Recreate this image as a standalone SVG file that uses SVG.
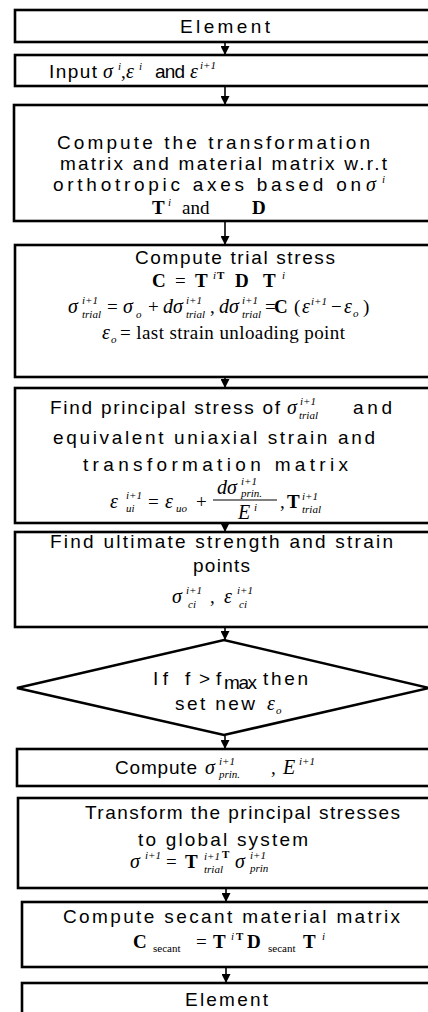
<svg xmlns="http://www.w3.org/2000/svg" width="428" height="1012" viewBox="0 0 428 1012">
<defs>
<style>
.box{fill:#fff;stroke:#000;stroke-width:2.6}
.s{font-family:"Liberation Sans",Arial,sans-serif;font-size:19px;fill:#000}
.m{font-family:"Liberation Serif","Times New Roman",serif;font-style:italic;font-size:20px;fill:#000}
.r{font-family:"Liberation Serif","Times New Roman",serif;font-size:19px;fill:#000}
.b{font-family:"Liberation Serif","Times New Roman",serif;font-weight:bold;font-size:19px;fill:#000}
.i{font-family:"Liberation Serif","Times New Roman",serif;font-style:italic;font-size:11px;fill:#000}
.u{font-family:"Liberation Serif","Times New Roman",serif;font-size:11px;fill:#000}
.con{stroke:#000;stroke-width:1.6;fill:none;marker-end:url(#ah)}
</style>
<marker id="ah" viewBox="0 0 9 9" refX="9" refY="4.5" markerWidth="9" markerHeight="9" markerUnits="userSpaceOnUse" orient="auto">
<path d="M0,0 L9,4.5 L0,9 z" fill="#000"/>
</marker>
</defs>
<rect width="428" height="1012" fill="#fff"/>

<g id="connectors">
<line class="con" x1="225" y1="42" x2="225" y2="55"/>
<line class="con" x1="225" y1="86" x2="225" y2="105"/>
<line class="con" x1="225" y1="221" x2="225" y2="245"/>
<line class="con" x1="225" y1="377" x2="225" y2="388"/>
<line class="con" x1="225" y1="523" x2="225" y2="532"/>
<line class="con" x1="225" y1="627" x2="225" y2="640"/>
<line class="con" x1="225" y1="735" x2="225" y2="749"/>
<line class="con" x1="226" y1="888" x2="226" y2="902"/>
<line class="con" x1="226" y1="967" x2="226" y2="983"/>
</g>

<g id="n1">
<rect class="box" x="15" y="10" width="430" height="32"/>
<text class="s" x="180" y="33" textLength="90" lengthAdjust="spacing">Element</text>
</g>

<g id="n2">
<rect class="box" x="15" y="55" width="430" height="31"/>
<text class="s" x="49" y="78" textLength="48" lengthAdjust="spacing">Input</text>
<text class="m" x="103" y="78">σ</text>
<text class="i" x="118" y="70">i</text>
<text class="r" x="121" y="78">,</text>
<text class="m" x="126" y="78">ε</text>
<text class="i" x="139" y="70">i</text>
<text class="s" x="155" y="78" textLength="30" lengthAdjust="spacing">and</text>
<text class="m" x="190" y="78">ε</text>
<text class="i" x="200" y="69">i+1</text>
</g>

<g id="n3">
<rect class="box" x="14" y="105" width="430" height="116"/>
<text class="s" x="57" y="149" textLength="313" lengthAdjust="spacing">Compute the transformation</text>
<text class="s" x="60" y="170" textLength="327" lengthAdjust="spacing">matrix and material matrix w.r.t</text>
<text class="s" x="53" y="191" textLength="308" lengthAdjust="spacing">orthotropic axes based on</text>
<text class="m" x="366" y="191">σ</text>
<text class="i" x="382" y="183">i</text>
<text class="b" x="152" y="214">T</text>
<text class="i" x="168" y="206">i</text>
<text class="r" x="182" y="214">and</text>
<text class="b" x="252" y="214">D</text>
</g>

<g id="n4">
<rect class="box" x="15" y="245" width="430" height="132"/>
<text class="s" x="135" y="264" textLength="200" lengthAdjust="spacing">Compute trial stress</text>
<text class="b" x="152" y="287">C</text>
<text class="r" x="175" y="287">=</text>
<text class="b" x="195" y="287">T</text>
<text class="i" x="213" y="279">i</text>
<text class="u" x="217" y="279" font-weight="bold">T</text>
<text class="b" x="235" y="287">D</text>
<text class="b" x="263" y="287">T</text>
<text class="i" x="282" y="279">i</text>

<text class="m" x="68" y="313">σ</text>
<text class="i" x="82" y="304">i+1</text>
<text class="i" x="82" y="318">trial</text>
<text class="r" x="107" y="313">=</text>
<text class="m" x="123" y="313">σ</text>
<text class="i" x="136" y="318">o</text>
<text class="r" x="148" y="313">+</text>
<text class="m" x="163" y="313">dσ</text>
<text class="i" x="186" y="304">i+1</text>
<text class="i" x="186" y="318">trial</text>
<text class="r" x="210" y="313">,</text>
<text class="m" x="219" y="313">dσ</text>
<text class="i" x="242" y="304">i+1</text>
<text class="i" x="242" y="318">trial</text>
<text class="r" x="265" y="313" font-size="15">=</text>
<text class="b" x="274" y="313">C</text>
<text class="r" x="294" y="313">(</text>
<text class="m" x="302" y="313" font-size="17">ε</text>
<text class="i" x="311" y="305">i+1</text>
<text class="r" x="331" y="313" font-size="15">−</text>
<text class="m" x="344" y="313" font-size="17">ε</text>
<text class="i" x="353" y="317">o</text>
<text class="r" x="363" y="313">)</text>

<text class="m" x="102" y="339">ε</text>
<text class="i" x="111" y="343">o</text>
<text class="r" x="120" y="339" textLength="225" lengthAdjust="spacing">= last strain unloading point</text>
</g>

<g id="n5">
<rect class="box" x="15" y="388" width="430" height="135"/>
<text class="s" x="50" y="414" textLength="230" lengthAdjust="spacing">Find principal stress of</text>
<text class="m" x="287" y="414">σ</text>
<text class="i" x="300" y="405">i+1</text>
<text class="i" x="299" y="419">trial</text>
<text class="s" x="353" y="414" textLength="39" lengthAdjust="spacing">and</text>
<text class="s" x="53" y="444" textLength="322" lengthAdjust="spacing">equivalent uniaxial strain and</text>
<text class="s" x="83" y="471" textLength="265" lengthAdjust="spacing">transformation matrix</text>
<text class="m" x="110" y="508">ε</text>
<text class="i" x="126" y="499">i+1</text>
<text class="i" x="126" y="512">ui</text>
<text class="r" x="148" y="508">=</text>
<text class="m" x="165" y="508">ε</text>
<text class="i" x="176" y="512">uo</text>
<text class="r" x="196" y="508">+</text>
<line x1="213" y1="500" x2="277" y2="500" stroke="#000" stroke-width="1"/>
<text class="m" x="217" y="494">dσ</text>
<text class="i" x="241" y="485">i+1</text>
<text class="i" x="241" y="497">prin.</text>
<text class="m" x="238" y="519">E</text>
<text class="i" x="254" y="511">i</text>
<text class="r" x="280" y="508">,</text>
<text class="b" x="287" y="508">T</text>
<text class="i" x="302" y="500">i+1</text>
<text class="i" x="302" y="513">trial</text>
</g>

<g id="n6">
<rect class="box" x="15" y="532" width="430" height="95"/>
<text class="s" x="50" y="548" textLength="343" lengthAdjust="spacing">Find ultimate strength and strain</text>
<text class="s" x="193" y="572" textLength="57" lengthAdjust="spacing">points</text>
<text class="m" x="172" y="603">σ</text>
<text class="i" x="186" y="594">i+1</text>
<text class="i" x="188" y="608">ci</text>
<text class="r" x="210" y="603">,</text>
<text class="m" x="224" y="603">ε</text>
<text class="i" x="237" y="594">i+1</text>
<text class="i" x="239" y="608">ci</text>
</g>

<g id="n7">
<polygon class="box" points="17,688 224,640 429,688 224,735"/>
<text class="s" x="153" y="685" textLength="15" lengthAdjust="spacing">If</text>
<text class="s" x="185" y="685">f</text>
<text class="s" x="199" y="685">&gt;</text>
<text class="s" x="216" y="685">f</text>
<text class="s" x="224" y="689" font-size="13" textLength="33" lengthAdjust="spacing">max</text>
<text class="s" x="263" y="685" textLength="45" lengthAdjust="spacing">then</text>
<text class="s" x="175" y="710" textLength="80" lengthAdjust="spacing">set new</text>
<text class="m" x="267" y="710" font-size="17">ε</text>
<text class="i" x="276" y="714">o</text>
</g>

<g id="n8">
<rect class="box" x="17" y="749" width="430" height="37"/>
<text class="s" x="115" y="774" textLength="82" lengthAdjust="spacing">Compute</text>
<text class="m" x="205" y="774">σ</text>
<text class="i" x="219" y="765">i+1</text>
<text class="i" x="219" y="778">prin.</text>
<text class="r" x="271" y="774">,</text>
<text class="m" x="283" y="774">E</text>
<text class="i" x="299" y="765">i+1</text>
</g>

<g id="n9">
<rect class="box" x="18" y="798" width="430" height="90"/>
<text class="s" x="85" y="819" textLength="315" lengthAdjust="spacing">Transform the principal stresses</text>
<text class="s" x="138" y="846" textLength="170" lengthAdjust="spacing">to global system</text>
<text class="m" x="130" y="868">σ</text>
<text class="i" x="145" y="859">i+1</text>
<text class="r" x="166" y="868">=</text>
<text class="b" x="185" y="868">T</text>
<text class="i" x="204" y="860">i+1</text>
<text class="u" x="222" y="858" font-weight="bold">T</text>
<text class="i" x="204" y="873">trial</text>
<text class="m" x="235" y="868">σ</text>
<text class="i" x="250" y="859">i+1</text>
<text class="i" x="250" y="872">prin</text>
</g>

<g id="n10">
<rect class="box" x="22" y="902" width="430" height="65"/>
<text class="s" x="63" y="923" textLength="337" lengthAdjust="spacing">Compute secant material matrix</text>
<text class="b" x="133" y="948">C</text>
<text class="u" x="153" y="952" font-size="9">secant</text>
<text class="r" x="196" y="948">=</text>
<text class="b" x="213" y="948">T</text>
<text class="i" x="231" y="940">i</text>
<text class="u" x="236" y="940" font-weight="bold">T</text>
<text class="b" x="247" y="948">D</text>
<text class="u" x="268" y="952" font-size="9">secant</text>
<text class="b" x="303" y="948">T</text>
<text class="i" x="322" y="940">i</text>
</g>

<g id="n11">
<rect class="box" x="22" y="983" width="430" height="40"/>
<text class="s" x="185" y="1006" textLength="83" lengthAdjust="spacing">Element</text>
</g>
</svg>
